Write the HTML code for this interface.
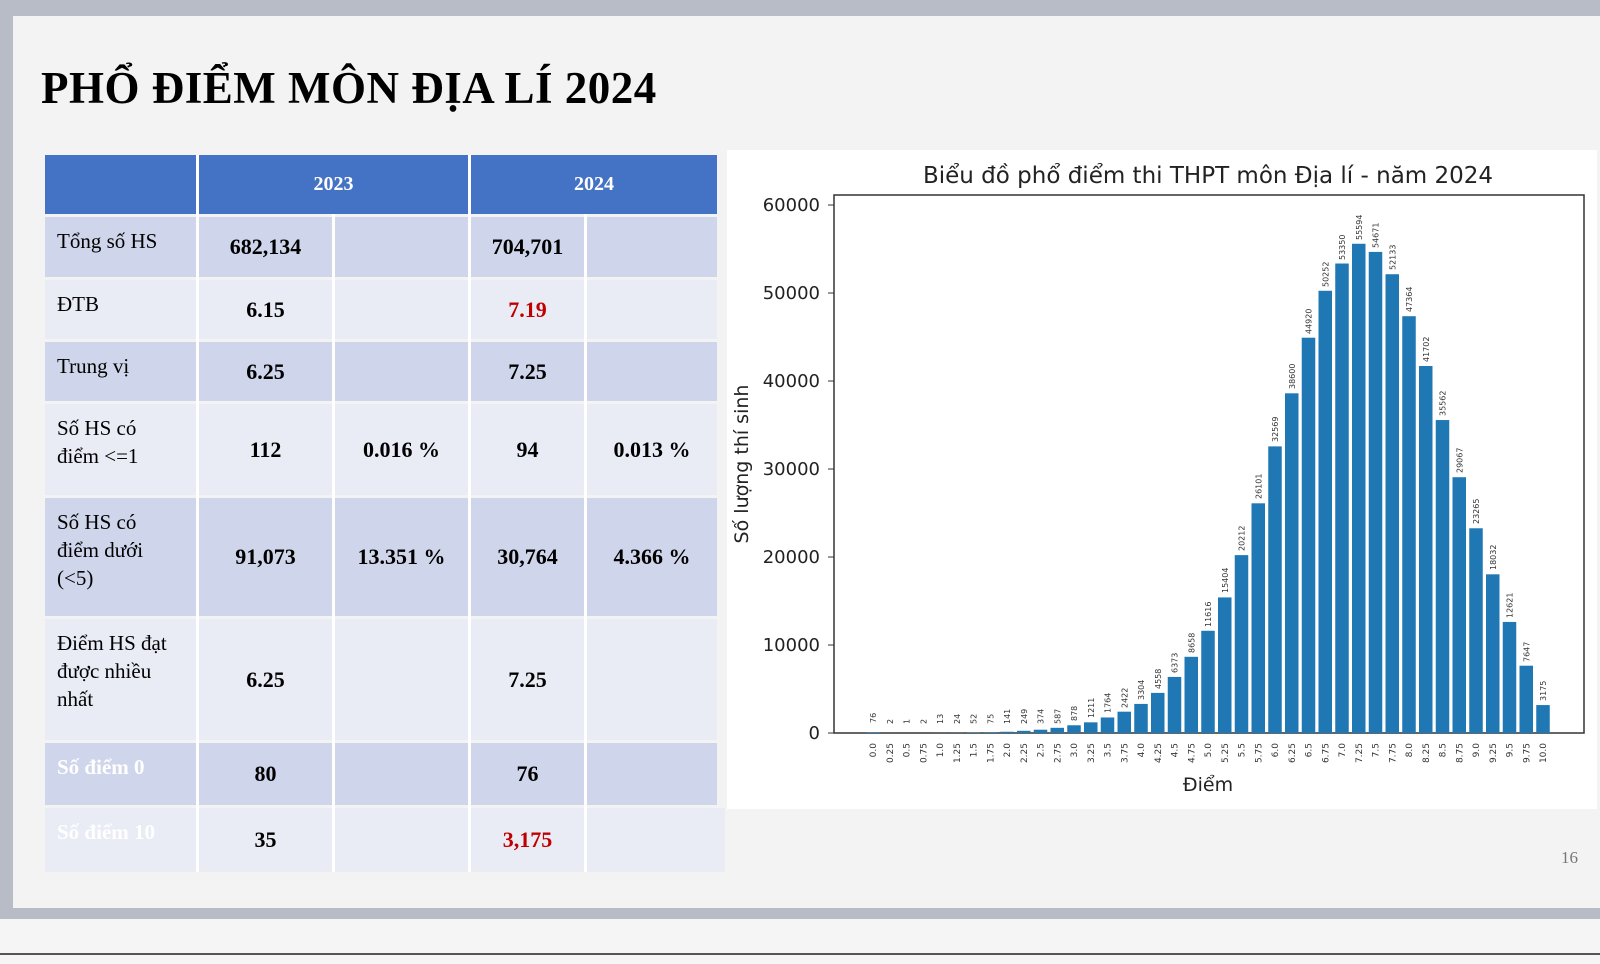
<!DOCTYPE html>
<html><head><meta charset="utf-8"><style>
body{margin:0;width:1600px;height:964px;background:#f3f3f4;position:relative;overflow:hidden;font-family:"Liberation Serif",serif}
.top{position:absolute;left:0;top:0;width:1600px;height:16px;background:#b7bcc6}
.left{position:absolute;left:0;top:0;width:13px;height:910px;background:#b7bcc6}
.band{position:absolute;left:0;top:908px;width:1600px;height:11px;background:#b7bcc6}
.low{position:absolute;left:0;top:919px;width:1600px;height:45px;background:#f5f5f5;border-top:0}
.line{position:absolute;left:0;top:953px;width:1600px;height:2px;background:#555}
h1{position:absolute;left:41px;top:62px;margin:0;font-size:45px;font-weight:bold;color:#000;letter-spacing:0.5px}
.c{position:absolute;box-sizing:border-box;font-size:22px;font-weight:bold;display:flex;align-items:center;justify-content:center}
.l{position:absolute;box-sizing:border-box;font-size:21px;padding:10px 22px 10px 12px;line-height:28px}
</style></head><body>
<div class="top"></div><div class="left"></div><div class="band"></div><div class="low"></div><div class="line"></div>
<h1>PHỔ ĐIỂM MÔN ĐỊA LÍ 2024</h1>

<div style="position:absolute;left:45px;top:155px;width:151px;height:59px;background:#4472c4"></div>
<div class="c" style="left:199px;top:155px;width:269px;height:59px;background:#4472c4;color:#fff;font-size:20px">2023</div>
<div class="c" style="left:471px;top:155px;width:246px;height:59px;background:#4472c4;color:#fff;font-size:20px">2024</div>

<div style="position:absolute;left:45px;top:217px;width:672px;height:60px;background:#cfd5ea"></div>
<div style="position:absolute;left:45px;top:280px;width:672px;height:59px;background:#e9ebf5"></div>
<div style="position:absolute;left:45px;top:342px;width:672px;height:59px;background:#cfd5ea"></div>
<div style="position:absolute;left:45px;top:404px;width:672px;height:91px;background:#e9ebf5"></div>
<div style="position:absolute;left:45px;top:498px;width:672px;height:118px;background:#cfd5ea"></div>
<div style="position:absolute;left:45px;top:619px;width:672px;height:121px;background:#e9ebf5"></div>
<div style="position:absolute;left:45px;top:743px;width:672px;height:62px;background:#cfd5ea"></div>
<div style="position:absolute;left:45px;top:808px;width:680px;height:64px;background:#e9ebf5"></div>
<div style="position:absolute;left:196px;top:155px;width:3px;height:717px;background:#fff"></div>
<div style="position:absolute;left:332px;top:214px;width:3px;height:658px;background:#fff"></div>
<div style="position:absolute;left:468px;top:155px;width:3px;height:717px;background:#fff"></div>
<div style="position:absolute;left:584px;top:214px;width:3px;height:658px;background:#fff"></div>

<div class="l" style="left:45px;top:217px;width:151px">Tổng số HS</div>
<div class="l" style="left:45px;top:280px;width:151px">ĐTB</div>
<div class="l" style="left:45px;top:342px;width:151px">Trung vị</div>
<div class="l" style="left:45px;top:404px;width:151px">Số HS có điểm &lt;=1</div>
<div class="l" style="left:45px;top:498px;width:151px">Số HS có điểm dưới (&lt;5)</div>
<div class="l" style="left:45px;top:619px;width:151px">Điểm HS đạt được nhiều nhất</div>
<div class="l" style="left:45px;top:743px;width:151px;color:#fff;font-weight:bold">Số điểm 0</div>
<div class="l" style="left:45px;top:808px;width:151px;color:#fff;font-weight:bold">Số điểm 10</div>

<div class="c" style="left:199px;top:217px;width:133px;height:60px">682,134</div>
<div class="c" style="left:471px;top:217px;width:113px;height:60px">704,701</div>
<div class="c" style="left:199px;top:280px;width:133px;height:59px">6.15</div>
<div class="c" style="left:471px;top:280px;width:113px;height:59px;color:#c00000">7.19</div>
<div class="c" style="left:199px;top:342px;width:133px;height:59px">6.25</div>
<div class="c" style="left:471px;top:342px;width:113px;height:59px">7.25</div>
<div class="c" style="left:199px;top:404px;width:133px;height:91px">112</div>
<div class="c" style="left:335px;top:404px;width:133px;height:91px">0.016 %</div>
<div class="c" style="left:471px;top:404px;width:113px;height:91px">94</div>
<div class="c" style="left:587px;top:404px;width:130px;height:91px">0.013 %</div>
<div class="c" style="left:199px;top:498px;width:133px;height:118px">91,073</div>
<div class="c" style="left:335px;top:498px;width:133px;height:118px">13.351 %</div>
<div class="c" style="left:471px;top:498px;width:113px;height:118px">30,764</div>
<div class="c" style="left:587px;top:498px;width:130px;height:118px">4.366 %</div>
<div class="c" style="left:199px;top:619px;width:133px;height:121px">6.25</div>
<div class="c" style="left:471px;top:619px;width:113px;height:121px">7.25</div>
<div class="c" style="left:199px;top:743px;width:133px;height:62px">80</div>
<div class="c" style="left:471px;top:743px;width:113px;height:62px">76</div>
<div class="c" style="left:199px;top:808px;width:133px;height:64px">35</div>
<div class="c" style="left:471px;top:808px;width:113px;height:64px;color:#c00000">3,175</div>

<div style="position:absolute;left:1561px;top:848px;font-size:17px;color:#777">16</div>

<svg style="position:absolute;left:0;top:0" width="1600" height="964" font-family="'DejaVu Sans','Liberation Sans',sans-serif">
<rect x="727" y="150" width="870" height="659" fill="#fff"/>
<text x="1208" y="183" text-anchor="middle" font-size="23" fill="#222">Biểu đồ phổ điểm thi THPT môn Địa lí - năm 2024</text>
<rect x="834" y="195" width="750" height="538" fill="none" stroke="#333" stroke-width="1.5"/>
<g font-size="18" fill="#222" text-anchor="end">
<text x="820" y="739">0</text><text x="820" y="651">10000</text><text x="820" y="563">20000</text><text x="820" y="475">30000</text><text x="820" y="387">40000</text><text x="820" y="299">50000</text><text x="820" y="211">60000</text>
</g>
<g stroke="#333"><line x1="828" x2="834" y1="733" y2="733"/><line x1="828" x2="834" y1="645" y2="645"/><line x1="828" x2="834" y1="557" y2="557"/><line x1="828" x2="834" y1="469" y2="469"/><line x1="828" x2="834" y1="381" y2="381"/><line x1="828" x2="834" y1="293" y2="293"/><line x1="828" x2="834" y1="205" y2="205"/></g>
<text transform="translate(748,464) rotate(-90)" text-anchor="middle" font-size="19" fill="#222">Số lượng thí sinh</text>
<text x="1208" y="791" text-anchor="middle" font-size="19" fill="#222">Điểm</text>
<g transform="translate(0,733) scale(1,-1)" fill="#1f77b4">
<rect x="866.25" width="13.5" height="0.67"/><rect x="883" width="13.5" height="0.02"/><rect x="933.25" width="13.5" height="0.11"/><rect x="950" width="13.5" height="0.21"/><rect x="966.75" width="13.5" height="0.46"/><rect x="983.5" width="13.5" height="0.66"/><rect x="1000.25" width="13.5" height="1.24"/><rect x="1017" width="13.5" height="2.19"/><rect x="1033.75" width="13.5" height="3.29"/><rect x="1050.5" width="13.5" height="5.17"/><rect x="1067.25" width="13.5" height="7.73"/><rect x="1084" width="13.5" height="10.66"/><rect x="1100.75" width="13.5" height="15.52"/><rect x="1117.5" width="13.5" height="21.31"/><rect x="1134.25" width="13.5" height="29.08"/><rect x="1151" width="13.5" height="40.11"/><rect x="1167.75" width="13.5" height="56.08"/><rect x="1184.5" width="13.5" height="76.19"/><rect x="1201.25" width="13.5" height="102.22"/><rect x="1218" width="13.5" height="135.56"/><rect x="1234.75" width="13.5" height="177.87"/><rect x="1251.5" width="13.5" height="229.69"/><rect x="1268.25" width="13.5" height="286.61"/><rect x="1285" width="13.5" height="339.68"/><rect x="1301.75" width="13.5" height="395.3"/><rect x="1318.5" width="13.5" height="442.22"/><rect x="1335.25" width="13.5" height="469.48"/><rect x="1352" width="13.5" height="489.23"/><rect x="1368.75" width="13.5" height="481.1"/><rect x="1385.5" width="13.5" height="458.77"/><rect x="1402.25" width="13.5" height="416.8"/><rect x="1419" width="13.5" height="366.98"/><rect x="1435.75" width="13.5" height="312.95"/><rect x="1452.5" width="13.5" height="255.79"/><rect x="1469.25" width="13.5" height="204.73"/><rect x="1486" width="13.5" height="158.68"/><rect x="1502.75" width="13.5" height="111.06"/><rect x="1519.5" width="13.5" height="67.29"/><rect x="1536.25" width="13.5" height="27.94"/>
</g>
<g font-size="8" fill="#333">
<text transform="translate(876,723) rotate(-90)">76</text><text transform="translate(892.75,724) rotate(-90)">2</text><text transform="translate(909.5,724) rotate(-90)">1</text><text transform="translate(926.25,724) rotate(-90)">2</text><text transform="translate(943,724) rotate(-90)">13</text><text transform="translate(959.75,724) rotate(-90)">24</text><text transform="translate(976.5,724) rotate(-90)">52</text><text transform="translate(993.25,724) rotate(-90)">75</text><text transform="translate(1010,724) rotate(-90)">141</text><text transform="translate(1026.75,724) rotate(-90)">249</text><text transform="translate(1043.5,724) rotate(-90)">374</text><text transform="translate(1060.25,724) rotate(-90)">587</text><text transform="translate(1077,721) rotate(-90)">878</text><text transform="translate(1093.75,718) rotate(-90)">1211</text><text transform="translate(1110.5,713) rotate(-90)">1764</text><text transform="translate(1127.25,708) rotate(-90)">2422</text><text transform="translate(1144,700) rotate(-90)">3304</text><text transform="translate(1160.75,689) rotate(-90)">4558</text><text transform="translate(1177.5,673) rotate(-90)">6373</text><text transform="translate(1194.25,653) rotate(-90)">8658</text><text transform="translate(1211,627) rotate(-90)">11616</text><text transform="translate(1227.75,593) rotate(-90)">15404</text><text transform="translate(1244.5,551) rotate(-90)">20212</text><text transform="translate(1261.25,499) rotate(-90)">26101</text><text transform="translate(1278,442) rotate(-90)">32569</text><text transform="translate(1294.75,389) rotate(-90)">38600</text><text transform="translate(1311.5,334) rotate(-90)">44920</text><text transform="translate(1328.25,287) rotate(-90)">50252</text><text transform="translate(1345,260) rotate(-90)">53350</text><text transform="translate(1361.75,240) rotate(-90)">55594</text><text transform="translate(1378.5,248) rotate(-90)">54671</text><text transform="translate(1395.25,270) rotate(-90)">52133</text><text transform="translate(1412,312) rotate(-90)">47364</text><text transform="translate(1428.75,362) rotate(-90)">41702</text><text transform="translate(1445.5,416) rotate(-90)">35562</text><text transform="translate(1462.25,473) rotate(-90)">29067</text><text transform="translate(1479,524) rotate(-90)">23265</text><text transform="translate(1495.75,570) rotate(-90)">18032</text><text transform="translate(1512.5,618) rotate(-90)">12621</text><text transform="translate(1529.25,662) rotate(-90)">7647</text><text transform="translate(1546,701) rotate(-90)">3175</text>
</g>
<g font-size="9" fill="#333" text-anchor="end">
<text transform="translate(876,743) rotate(-90)">0.0</text><text transform="translate(892.75,743) rotate(-90)">0.25</text><text transform="translate(909.5,743) rotate(-90)">0.5</text><text transform="translate(926.25,743) rotate(-90)">0.75</text><text transform="translate(943,743) rotate(-90)">1.0</text><text transform="translate(959.75,743) rotate(-90)">1.25</text><text transform="translate(976.5,743) rotate(-90)">1.5</text><text transform="translate(993.25,743) rotate(-90)">1.75</text><text transform="translate(1010,743) rotate(-90)">2.0</text><text transform="translate(1026.75,743) rotate(-90)">2.25</text><text transform="translate(1043.5,743) rotate(-90)">2.5</text><text transform="translate(1060.25,743) rotate(-90)">2.75</text><text transform="translate(1077,743) rotate(-90)">3.0</text><text transform="translate(1093.75,743) rotate(-90)">3.25</text><text transform="translate(1110.5,743) rotate(-90)">3.5</text><text transform="translate(1127.25,743) rotate(-90)">3.75</text><text transform="translate(1144,743) rotate(-90)">4.0</text><text transform="translate(1160.75,743) rotate(-90)">4.25</text><text transform="translate(1177.5,743) rotate(-90)">4.5</text><text transform="translate(1194.25,743) rotate(-90)">4.75</text><text transform="translate(1211,743) rotate(-90)">5.0</text><text transform="translate(1227.75,743) rotate(-90)">5.25</text><text transform="translate(1244.5,743) rotate(-90)">5.5</text><text transform="translate(1261.25,743) rotate(-90)">5.75</text><text transform="translate(1278,743) rotate(-90)">6.0</text><text transform="translate(1294.75,743) rotate(-90)">6.25</text><text transform="translate(1311.5,743) rotate(-90)">6.5</text><text transform="translate(1328.25,743) rotate(-90)">6.75</text><text transform="translate(1345,743) rotate(-90)">7.0</text><text transform="translate(1361.75,743) rotate(-90)">7.25</text><text transform="translate(1378.5,743) rotate(-90)">7.5</text><text transform="translate(1395.25,743) rotate(-90)">7.75</text><text transform="translate(1412,743) rotate(-90)">8.0</text><text transform="translate(1428.75,743) rotate(-90)">8.25</text><text transform="translate(1445.5,743) rotate(-90)">8.5</text><text transform="translate(1462.25,743) rotate(-90)">8.75</text><text transform="translate(1479,743) rotate(-90)">9.0</text><text transform="translate(1495.75,743) rotate(-90)">9.25</text><text transform="translate(1512.5,743) rotate(-90)">9.5</text><text transform="translate(1529.25,743) rotate(-90)">9.75</text><text transform="translate(1546,743) rotate(-90)">10.0</text>
</g>
</svg>
</body></html>
